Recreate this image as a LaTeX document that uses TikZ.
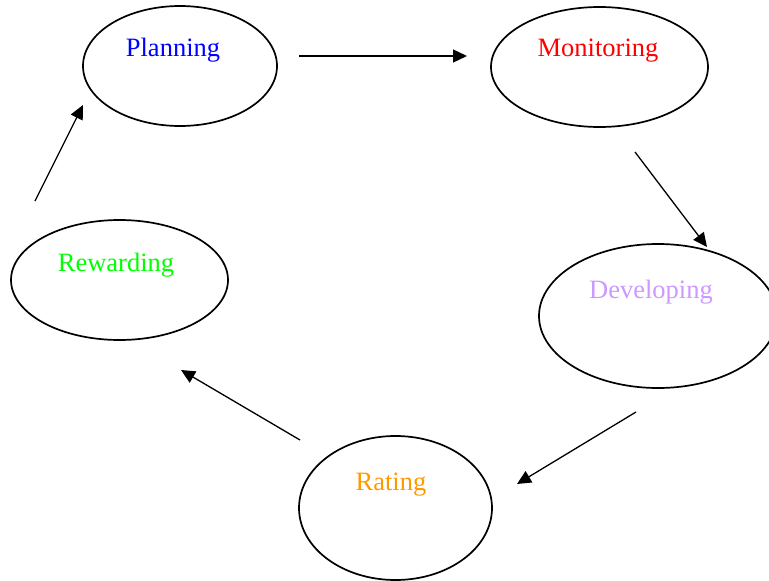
\documentclass[tikz,border=0pt]{standalone}
\usepackage{fontspec}
\setmainfont{Liberation Serif}
\usetikzlibrary{shapes.geometric,arrows.meta}
\definecolor{devpurple}{HTML}{CC99FF}
\definecolor{rateorange}{HTML}{FF9900}
\definecolor{rewgreen}{HTML}{00FF00}
\begin{document}
\begin{tikzpicture}[x=1pt,y=-1pt,
  stage/.style={draw=black,line width=1.7pt,ellipse,inner sep=0pt},
  caption/.style={anchor=base,font=\fontsize{26.5}{30}\selectfont,inner sep=0pt},
  flow/.style={line width=1.3pt,-{Triangle[length=14pt,width=13pt]}}]
\useasboundingbox (0,0) rectangle (769,581);
% stages of the cycle
\node[stage,minimum width=194pt,minimum height=120pt] (planning) at (180,66) {};
\node[stage,minimum width=217pt,minimum height=120pt] (monitoring) at (599.5,67) {};
\node[stage,minimum width=238pt,minimum height=144pt] (developing) at (658,316) {};
\node[stage,minimum width=193pt,minimum height=144pt] (rating) at (395.5,508) {};
\node[stage,minimum width=217pt,minimum height=120pt] (rewarding) at (119.5,280) {};
% captions
\node[caption,text=blue] (planning-t) at (173,56) {Planning};
\node[caption,text=red] (monitoring-t) at (598,56) {Monitoring};
\node[caption,text=devpurple] (developing-t) at (651,298) {Developing};
\node[caption,text=rateorange] (rating-t) at (391,490) {Rating};
\node[caption,text=rewgreen] (rewarding-t) at (116,271) {Rewarding};
% arrow ends
\coordinate (a1s) at (299,56);  \coordinate (a1e) at (467,56);
\coordinate (a2s) at (635,152); \coordinate (a2e) at (707,247);
\coordinate (a3s) at (636,412); \coordinate (a3e) at (517,484);
\coordinate (a4s) at (300,440); \coordinate (a4e) at (181,370);
\coordinate (a5s) at (35,201);  \coordinate (a5e) at (83,105);
\draw[flow] (a1s) -- (a1e);
\draw[flow] (a2s) -- (a2e);
\draw[flow] (a3s) -- (a3e);
\draw[flow] (a4s) -- (a4e);
\draw[flow] (a5s) -- (a5e);
\end{tikzpicture}
\end{document}
